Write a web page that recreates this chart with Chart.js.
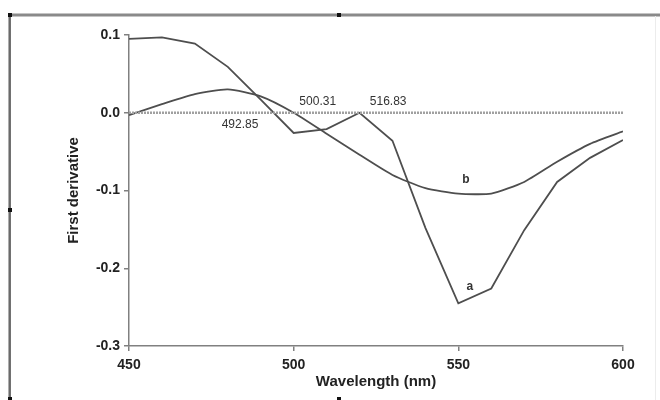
<!DOCTYPE html>
<html>
<head>
<meta charset="utf-8">
<script src="https://cdn.jsdelivr.net/npm/chart.js@4"></script>
<style>
    html, body { margin: 0; padding: 0; background: #fff; }
    canvas { display: block; }
</style>
</head>
<body>
<canvas id="derivChart" width="660" height="400"></canvas>
<script>
// wavelength grid (nm) and first derivative curves
const wavelengths = [450, 460, 470, 480, 490, 500, 510, 520, 530, 540, 550, 560, 570, 580, 590, 600];
const derivA = [0.095, 0.097, 0.089, 0.059, 0.017, -0.026, -0.021, 0.000, -0.036, -0.148, -0.245, -0.226, -0.151, -0.089, -0.058, -0.035];
const derivB = [-0.003, 0.011, 0.024, 0.030, 0.021, 0.000, -0.027, -0.054, -0.080, -0.097, -0.104, -0.104, -0.089, -0.063, -0.040, -0.024];
const zeroLine = [0, 0];
const zeroRange = [450, 600];

const xTicks = [450, 500, 550, 600];
const yTicks = [-0.3, -0.2, -0.1, 0.0, 0.1];

// text labels on the plot, anchored in data units
const noteTexts = ['492.85', '500.31', '516.83', 'b', 'a'];
const noteX = [483.7, 507.3, 528.7, 552.3, 553.5];
const noteY = [-0.015, 0.014, 0.014, -0.086, -0.224];

const lineColor = '#4e4e4e';
const axisColor = '#808080';

const toPoints = (xs, ys) => xs.map((x, i) => ({ x: x, y: ys[i] }));

// frame around the figure (like an embedded object with handles)
const framePlugin = {
    id: 'frame',
    beforeDraw(chart) {
        const ctx = chart.ctx;
        ctx.save();
        ctx.fillStyle = '#fff';
        ctx.fillRect(0, 0, chart.width, chart.height);
        ctx.strokeStyle = '#8a8a8a';
        ctx.lineWidth = 3;
        ctx.beginPath();
        ctx.moveTo(8, 15); ctx.lineTo(chart.width, 15);
        ctx.stroke();
        ctx.strokeStyle = '#6a6a6a';
        ctx.lineWidth = 2.5;
        ctx.beginPath();
        ctx.moveTo(9.7, 14); ctx.lineTo(9.7, chart.height);
        ctx.stroke();
        ctx.strokeStyle = '#ececec';
        ctx.lineWidth = 1;
        ctx.beginPath();
        ctx.moveTo(655.5, 16); ctx.lineTo(655.5, chart.height);
        ctx.stroke();
        ctx.fillStyle = '#111';
        [[10, 15], [339, 15], [10, 210], [10, 399], [339, 399]].forEach(([hx, hy]) => {
            ctx.fillRect(hx - 2, hy - 2, 4, 4);
        });
        ctx.restore();
    }
};

const notesPlugin = {
    id: 'notes',
    afterDatasetsDraw(chart) {
        const ctx = chart.ctx;
        const xs = chart.scales.x;
        const ys = chart.scales.y;
        ctx.save();
        ctx.fillStyle = '#333';
        ctx.textAlign = 'center';
        ctx.textBaseline = 'middle';
        noteTexts.forEach((t, i) => {
            ctx.font = t.length === 1 ? 'bold 12px "Liberation Sans", Arial, sans-serif' : '12px "Liberation Sans", Arial, sans-serif';
            ctx.fillText(t, xs.getPixelForValue(noteX[i]), ys.getPixelForValue(noteY[i]));
        });
        ctx.restore();
    }
};

new Chart(document.getElementById('derivChart').getContext('2d'), {
    type: 'line',
    data: {
        datasets: [
            {
                label: 'zero',
                data: toPoints(zeroRange, zeroLine),
                borderColor: '#a0a0a0',
                borderWidth: 2.5,
                borderDash: [2, 1],
                pointRadius: 0,
                fill: false
            },
            {
                label: 'a',
                data: toPoints(wavelengths, derivA),
                borderColor: lineColor,
                borderWidth: 1.8,
                pointRadius: 0,
                tension: 0,
                fill: false
            },
            {
                label: 'b',
                data: toPoints(wavelengths, derivB),
                borderColor: lineColor,
                borderWidth: 1.8,
                pointRadius: 0,
                tension: 0.2,
                fill: false
            }
        ]
    },
    options: {
        responsive: false,
        animation: false,
        events: [],
        layout: {
            padding: { left: 65, top: 35, right: 37, bottom: 9 }
        },
        plugins: {
            legend: { display: false },
            tooltip: { enabled: false }
        },
        scales: {
            x: {
                type: 'linear',
                min: 450,
                max: 600,
                afterBuildTicks: scale => { scale.ticks = xTicks.map(v => ({ value: v })); },
                afterFit: scale => { scale.height = 45; },
                grid: { drawOnChartArea: false, drawTicks: true, tickLength: 5, color: axisColor, lineWidth: 1.5 },
                border: { display: true, color: axisColor, width: 1.5 },
                ticks: {
                    color: '#222',
                    padding: 6,
                    maxRotation: 0,
                    font: { family: '"Liberation Sans", Arial, sans-serif', size: 14, weight: 'bold' }
                },
                title: {
                    display: true,
                    text: 'Wavelength (nm)',
                    color: '#222',
                    padding: 0,
                    font: { family: '"Liberation Sans", Arial, sans-serif', size: 15, weight: 'bold' }
                }
            },
            y: {
                type: 'linear',
                min: -0.3,
                max: 0.1,
                afterBuildTicks: scale => { scale.ticks = yTicks.map(v => ({ value: v })); },
                afterFit: scale => { scale.width = 64; },
                grid: { drawOnChartArea: false, drawTicks: true, tickLength: 5, color: axisColor, lineWidth: 1.5 },
                border: { display: true, color: axisColor, width: 1.5 },
                ticks: {
                    color: '#222',
                    padding: 4,
                    callback: v => v.toFixed(1),
                    font: { family: '"Liberation Sans", Arial, sans-serif', size: 14, weight: 'bold' }
                },
                title: {
                    display: true,
                    text: 'First derivative',
                    color: '#222',
                    padding: 0,
                    font: { family: '"Liberation Sans", Arial, sans-serif', size: 15, weight: 'bold' }
                }
            }
        }
    },
    plugins: [framePlugin, notesPlugin]
});
</script>
</body>
</html>
